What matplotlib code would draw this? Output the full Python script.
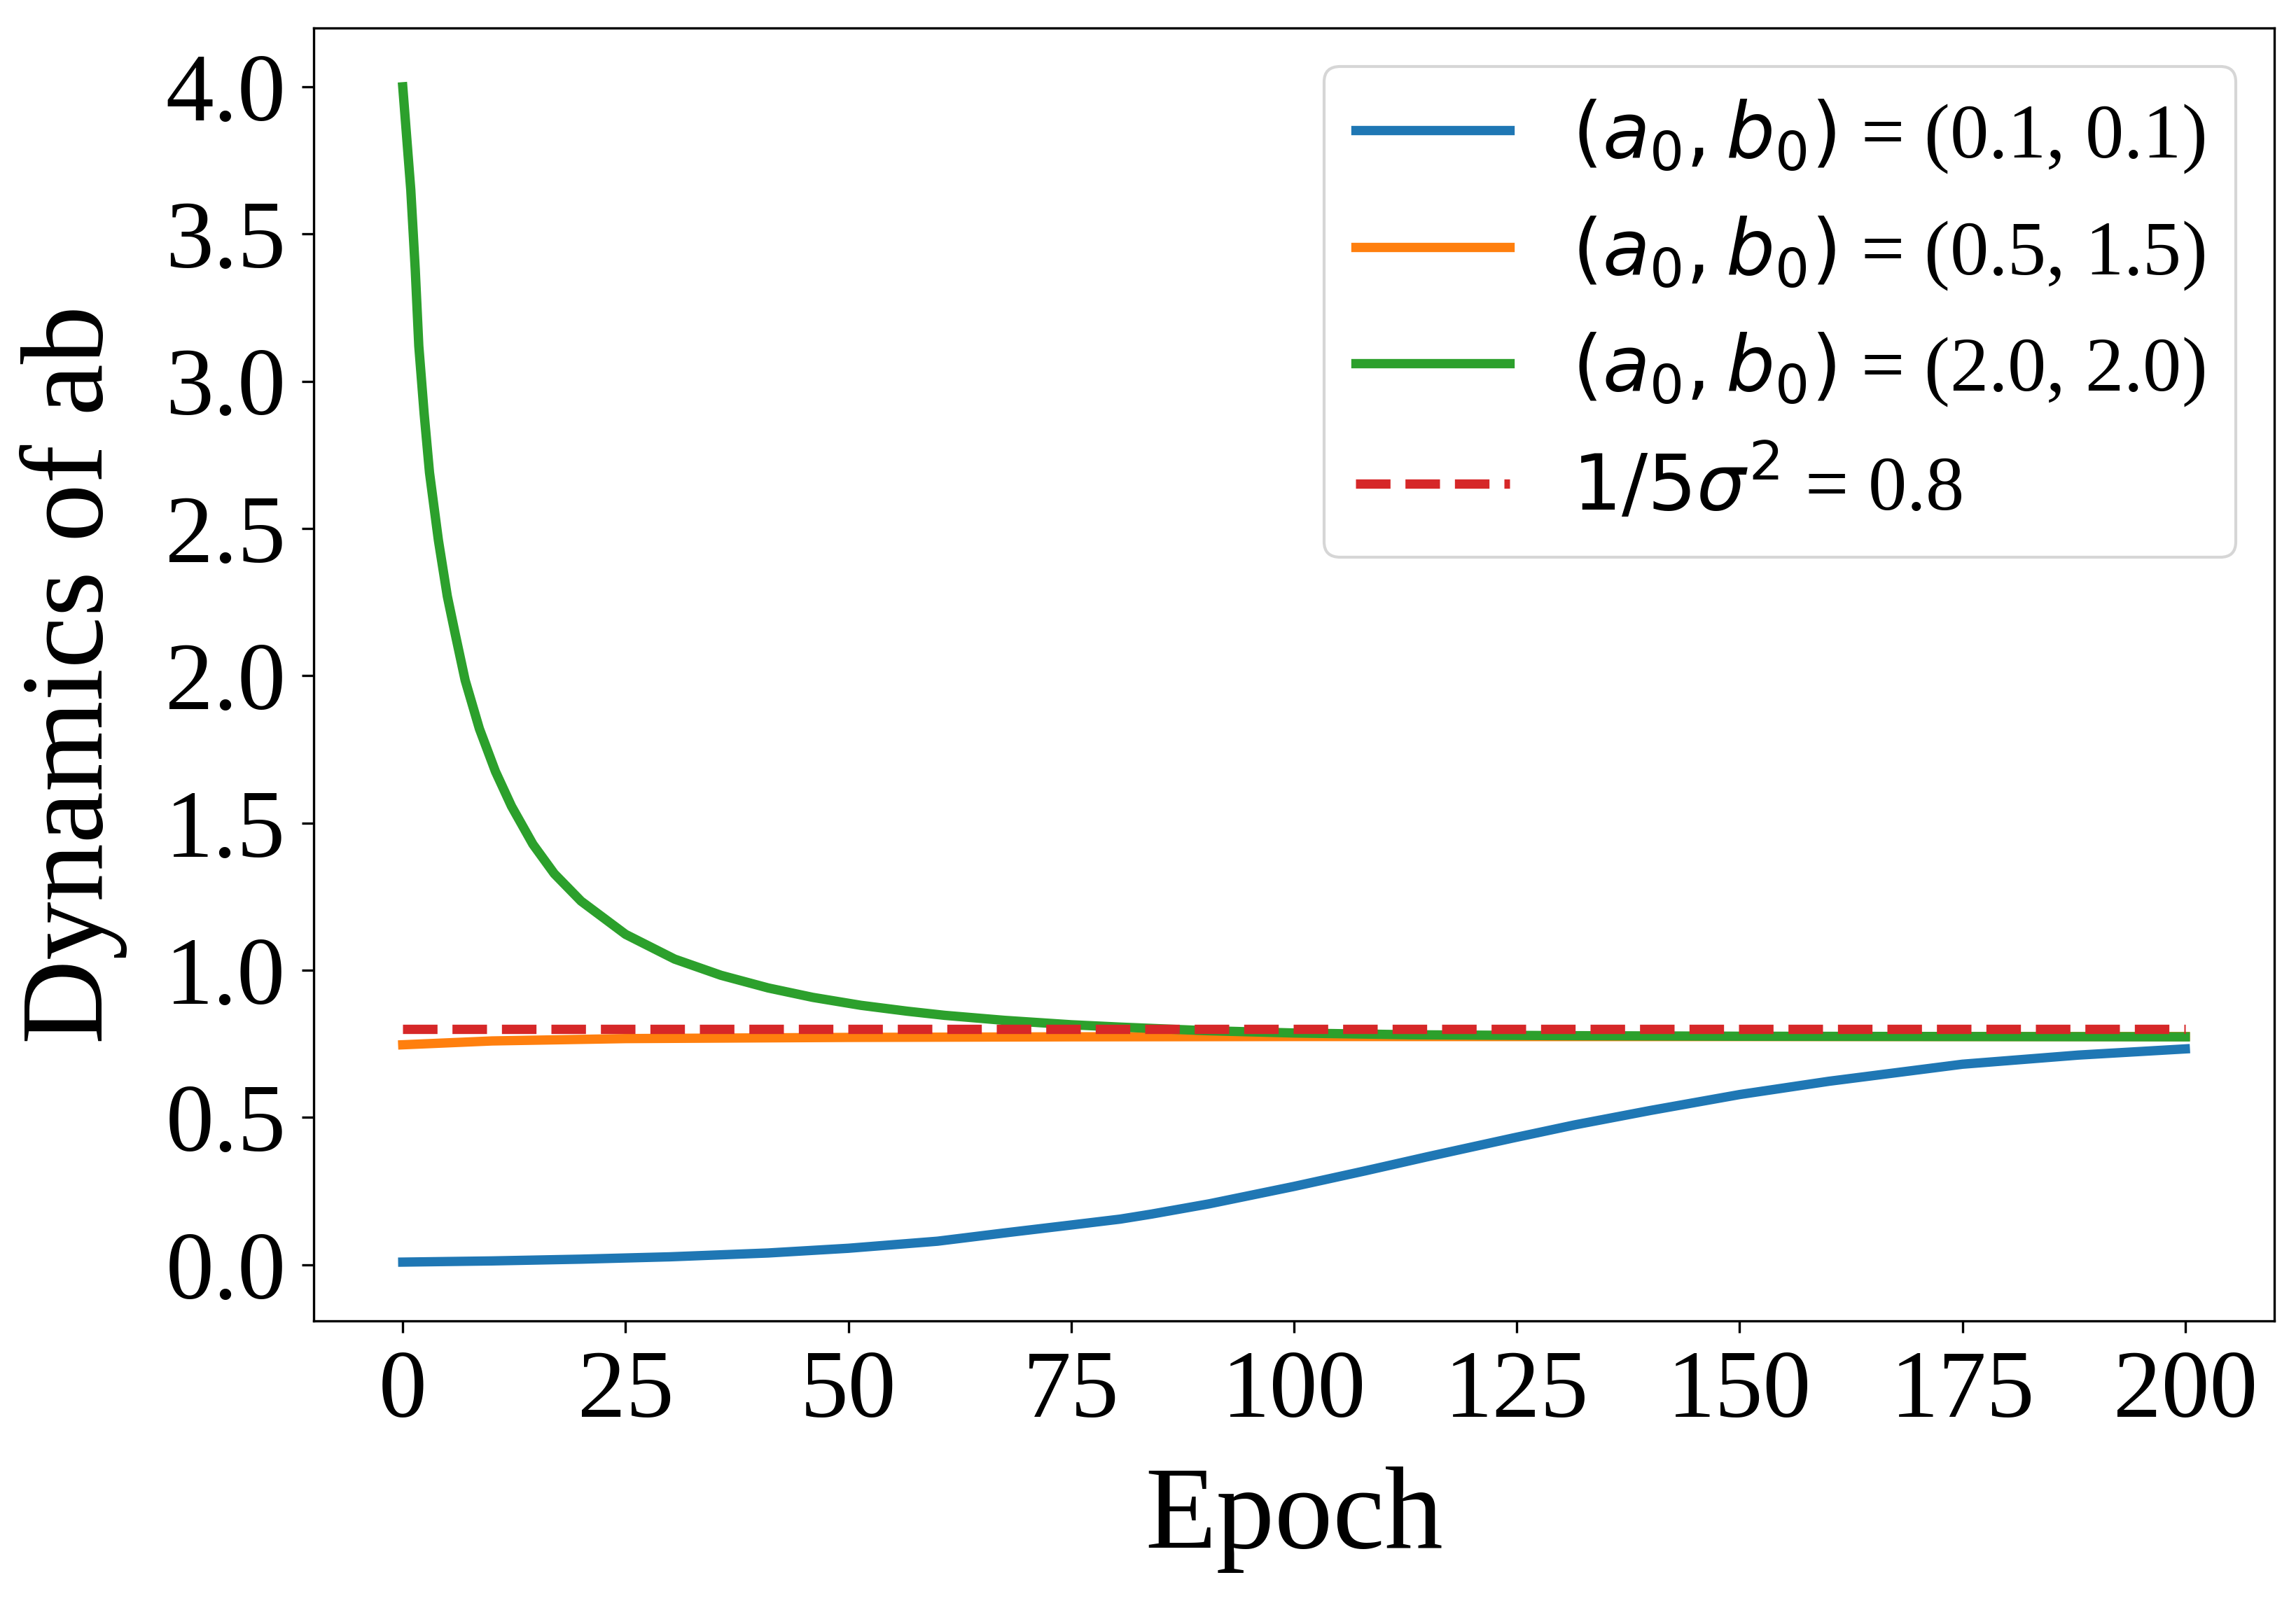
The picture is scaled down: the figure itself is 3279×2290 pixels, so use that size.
import matplotlib
matplotlib.use("Agg")
import matplotlib.pyplot as plt
from matplotlib.ticker import FormatStrFormatter

plt.rcParams['font.family'] = ['Liberation Serif', 'DejaVu Serif']
plt.rcParams['mathtext.fontset'] = 'dejavusans'

# Data
blue_epochs = [0, 10, 20, 30, 41, 50, 60, 67.5, 75, 80.5, 84, 90.5, 100, 108,
               115, 124.5, 131.5, 140, 150, 160, 175, 188, 200]
blue_values = [0.009, 0.013, 0.019, 0.027, 0.040, 0.056, 0.080, 0.108, 0.135,
               0.155, 0.172, 0.207, 0.266, 0.319, 0.367, 0.430, 0.475, 0.524,
               0.578, 0.623, 0.681, 0.712, 0.733]

orange_epochs = [0, 10, 25, 50, 75, 100, 150, 200]
orange_values = [0.747, 0.760, 0.768, 0.772, 0.774, 0.775, 0.775, 0.775]

green_epochs = [0, 0.9, 1.4, 1.8, 2.4, 3.0, 4.0, 5.0, 5.9, 7.0, 8.6, 10.4, 12.2,
                14.6, 17, 20, 25, 30.5, 35.7, 41, 46, 51.4, 56.6, 60.8, 67.5,
                75, 80.5, 90, 100, 113, 130, 150, 175, 200]
green_values = [4.00, 3.65, 3.38, 3.12, 2.89, 2.69, 2.46, 2.27, 2.14, 1.985,
                1.82, 1.675, 1.557, 1.428, 1.328, 1.235, 1.122, 1.038, 0.983,
                0.940, 0.908, 0.881, 0.861, 0.847, 0.830, 0.815, 0.807, 0.795,
                0.787, 0.781, 0.778, 0.776, 0.775, 0.774]

ref_epochs = [0, 200]
ref_values = [0.8, 0.8]

labels = [r'$(a_0, b_0)$ = (0.1, 0.1)',
          r'$(a_0, b_0)$ = (0.5, 1.5)',
          r'$(a_0, b_0)$ = (2.0, 2.0)',
          r'$1/5\sigma^2$ = 0.8']
xticks = [0, 25, 50, 75, 100, 125, 150, 175, 200]
yticks = [0.0, 0.5, 1.0, 1.5, 2.0, 2.5, 3.0, 3.5, 4.0]

fig = plt.figure(figsize=(3279 / 300, 2290 / 300), dpi=300)
ax = fig.add_axes([0.1366, 0.176, 0.854, 0.8065])

lw = 3.2
ax.plot(blue_epochs, blue_values, color='#1f77b4', lw=lw, label=labels[0])
ax.plot(orange_epochs, orange_values, color='#ff7f0e', lw=lw, label=labels[1])
ax.plot(green_epochs, green_values, color='#2ca02c', lw=lw, label=labels[2])
ax.plot(ref_epochs, ref_values, color='#d62728', lw=lw, ls='--', label=labels[3])

ax.set_xticks(xticks)
ax.set_yticks(yticks)
ax.yaxis.set_major_formatter(FormatStrFormatter('%.1f'))
ax.tick_params(labelsize=33, length=4)
ax.tick_params(axis='x', pad=6)
ax.tick_params(axis='y', pad=5.5)
ax.set_xlabel('Epoch', fontsize=40, labelpad=10)
ax.set_ylabel('Dynamics of ab', fontsize=40, labelpad=13)

ax.legend(loc='upper right', fontsize=26.5)

fig.savefig('out.png', dpi=300)
